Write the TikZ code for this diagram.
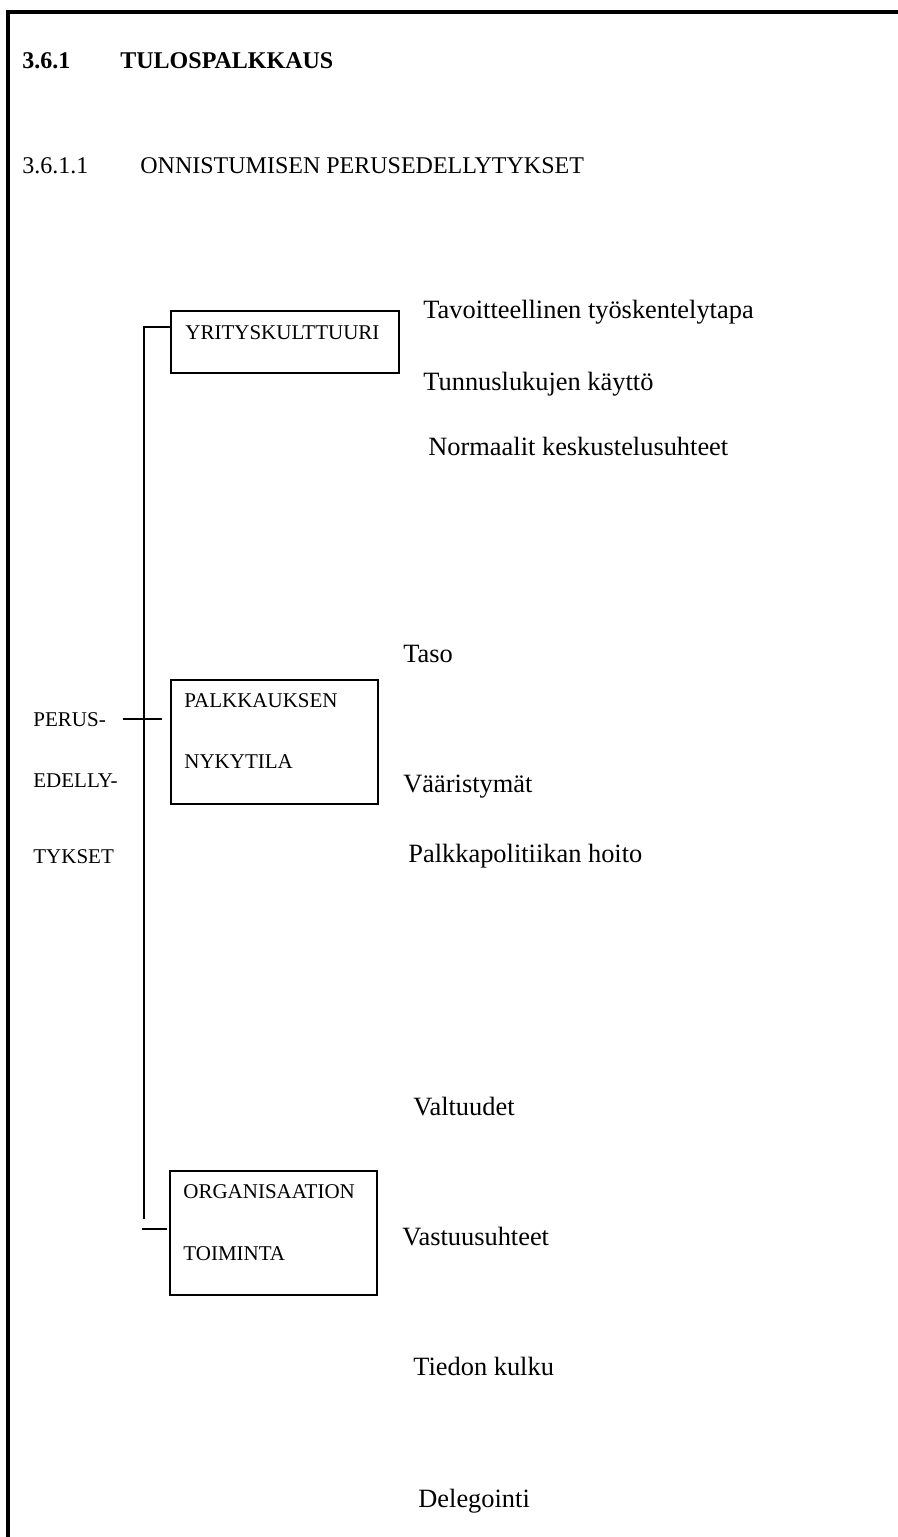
\documentclass[tikz,border=0pt]{standalone}
\usepackage{fontspec}
\setmainfont{Liberation Serif}
\usetikzlibrary{positioning}

\begin{document}
\begin{tikzpicture}[
  x=0.5pt, y=-0.5pt,
  frame/.style={line width=2pt},
  box/.style={draw, line width=1pt, inner sep=0pt, anchor=north west,
              minimum width=#1},
  box/.default=114pt,
  boxtxt/.style={font=\fontsize{10.5}{12}\selectfont, inner sep=0pt, anchor=base west},
  item/.style={font=\fontsize{13.2}{15}\selectfont, inner sep=0pt, anchor=base west},
  head/.style={font=\fontsize{12}{14}\selectfont, inner sep=0pt, anchor=base west},
  link/.style={line width=0.8pt}
]
\useasboundingbox (0,0) rectangle (898,1537);
% page frame
\coordinate (fr-tr) at (898,12);
\coordinate (fr-tl) at (8,12);
\coordinate (fr-bl) at (8,1537);
\draw[frame] (fr-tr) -- (fr-tl) -- (fr-bl);
% headings
\node[head, font=\fontsize{12}{14}\selectfont\bfseries] (h1n) at (22,68) {3.6.1};
\node[head, font=\fontsize{12}{14}\selectfont\bfseries] (h1t) at (120,68) {TULOSPALKKAUS};
\node[head] (h2n) at (22,173) {3.6.1.1};
\node[head] (h2t) at (140,173) {ONNISTUMISEN PERUSEDELLYTYKSET};
% boxes
\node[box, minimum height=31pt] (yk) at (170,310) {};
\node[boxtxt] (yk1) at (185,339) {YRITYSKULTTUURI};
\node[box=103.5pt, minimum height=62pt] (pn) at (170,679) {};
\node[boxtxt] (pn1) at (184,707) {PALKKAUKSEN};
\node[boxtxt] (pn2) at (184,768) {NYKYTILA};
\node[box=103.5pt, minimum height=62pt] (ot) at (169,1170) {};
\node[boxtxt] (ot1) at (183,1198) {ORGANISAATION};
\node[boxtxt] (ot2) at (183,1260) {TOIMINTA};
% left label
\node[boxtxt] (pe1) at (33,726) {PERUS-};
\node[boxtxt] (pe2) at (33,787) {EDELLY-};
\node[boxtxt] (pe3) at (33,863) {TYKSET};
% spine and brackets
\coordinate (sp-top) at (144,327);
\coordinate (sp-bot) at (144,1219);
\coordinate (yk-in) at (170,327);
\coordinate (cr-l) at (123,719);
\coordinate (cr-r) at (162,719);
\coordinate (ot-l) at (142,1229);
\coordinate (ot-r) at (167,1229);
\draw[link] (yk-in) -- (sp-top) -- (sp-bot);
\draw[link] (cr-l) -- (cr-r);
\draw[link] (ot-l) -- (ot-r);
% items
\node[item] (i1) at (423,318) {Tavoitteellinen työskentelytapa};
\node[item] (i2) at (423,390) {Tunnuslukujen käyttö};
\node[item] (i3) at (428,455) {Normaalit keskustelusuhteet};
\node[item] (i4) at (403,662) {Taso};
\node[item] (i5) at (403,792) {Vääristymät};
\node[item] (i6) at (408,862) {Palkkapolitiikan hoito};
\node[item] (i7) at (413,1115) {Valtuudet};
\node[item] (i8) at (402,1245) {Vastuusuhteet};
\node[item] (i9) at (413,1375) {Tiedon kulku};
\node[item] (i10) at (418,1507) {Delegointi};
\end{tikzpicture}
\end{document}
